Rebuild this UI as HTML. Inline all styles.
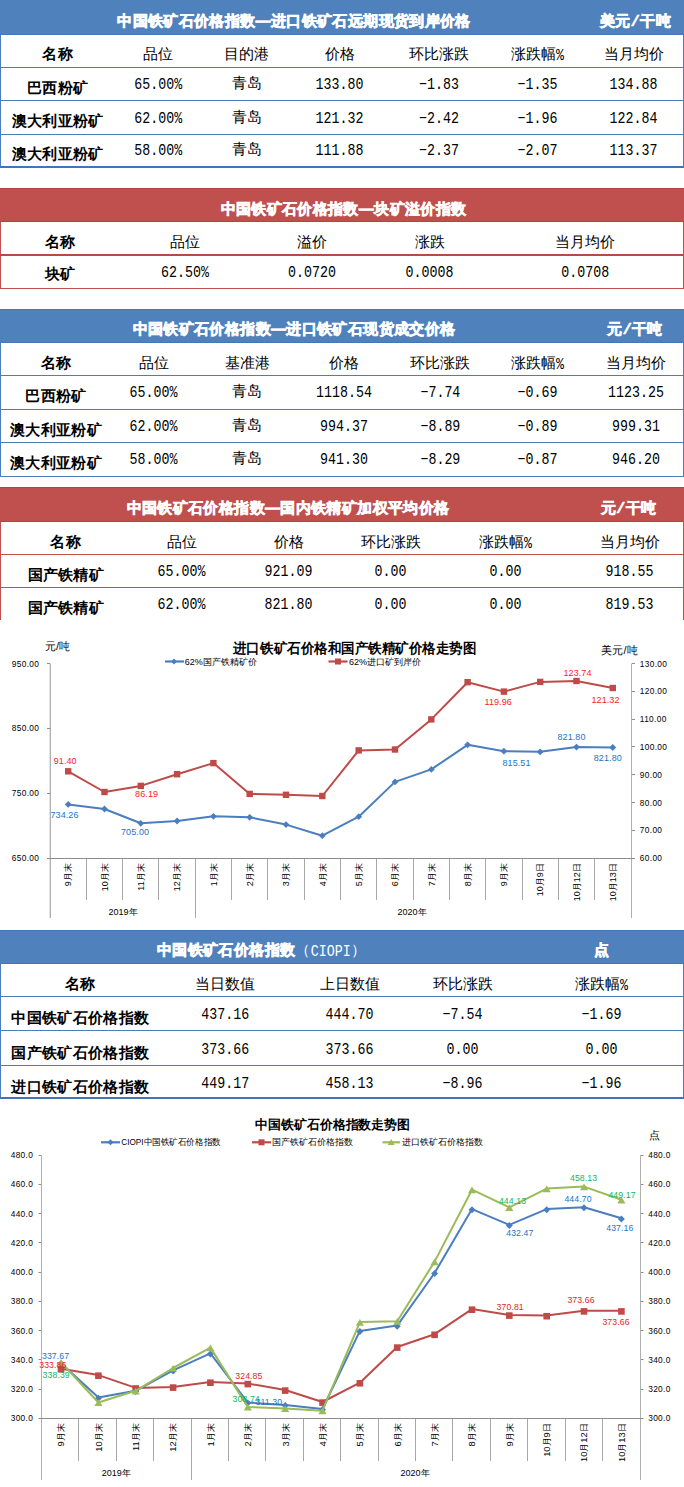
<!DOCTYPE html>
<html><head><meta charset="utf-8"><title>铁矿石价格指数</title><style>html,body{margin:0;padding:0;background:#fff}
body{width:684px;height:1487px;position:relative;overflow:hidden;font-family:"Liberation Sans",sans-serif;color:#000}
.r{position:absolute}
.t{position:absolute;white-space:nowrap;line-height:20px;height:20px}
.ci{font-weight:normal;-webkit-text-stroke:0}
.cm{font-family:'Liberation Mono',monospace;font-size:13.3px;display:inline-block;transform:scaleY(1.18);letter-spacing:0}
.sl{font-family:'Liberation Mono',monospace}
.pc{font-family:'Liberation Mono',monospace;font-size:13.3px;display:inline-block;transform:scaleY(1.18)}
svg{position:absolute;left:0;top:0}
svg text{font-family:"Liberation Sans",sans-serif}
</style></head><body>
<div class="r" style="left:0px;top:0px;width:684px;height:35px;background:#4f81bd"></div>
<div class="r" style="left:0px;top:34px;width:684px;height:1px;background:#4576b6"></div>
<div class="r" style="left:0px;top:35px;width:1px;height:133px;background:#4a7ebb"></div>
<div class="r" style="left:683px;top:35px;width:1px;height:133px;background:#4a7ebb"></div>
<div class="r" style="left:0px;top:67px;width:684px;height:1px;background:#4a7ebb"></div>
<div class="r" style="left:0px;top:100px;width:684px;height:1px;background:#4a7ebb"></div>
<div class="r" style="left:0px;top:134px;width:684px;height:1px;background:#4a7ebb"></div>
<div class="r" style="left:0px;top:166px;width:684px;height:2px;background:#4076b7"></div>
<span class="t" style="top:10.5px;font-size:15px;left:294.0px;transform:translateX(-50%);font-weight:bold;color:#fff;-webkit-text-stroke:0.6px #fff;letter-spacing:0.37px;">中国铁矿石价格指数—进口铁矿石远期现货到岸价格</span>
<span class="t" style="top:10.5px;font-size:15px;left:635.5px;transform:translateX(-50%);font-weight:bold;color:#fff;-webkit-text-stroke:0.6px #fff;letter-spacing:0.37px;">美元<span class="sl">/</span>干吨</span>
<span class="t" style="top:43.5px;font-size:15px;left:57.8px;transform:translateX(-50%);font-weight:bold;letter-spacing:0.3px;">名称</span>
<span class="t" style="top:43.5px;font-size:15px;left:158.2px;transform:translateX(-50%);">品位</span>
<span class="t" style="top:43.5px;font-size:15px;left:246.9px;transform:translateX(-50%);">目的港</span>
<span class="t" style="top:43.5px;font-size:15px;left:339.5px;transform:translateX(-50%);">价格</span>
<span class="t" style="top:43.5px;font-size:15px;left:439.0px;transform:translateX(-50%);">环比涨跌</span>
<span class="t" style="top:43.5px;font-size:15px;left:537.5px;transform:translateX(-50%);">涨跌幅<span class="pc">%</span></span>
<span class="t" style="top:43.5px;font-size:15px;left:633.5px;transform:translateX(-50%);">当月均价</span>
<span class="t" style="top:77.7px;font-size:15px;left:57.8px;transform:translateX(-50%);font-weight:bold;letter-spacing:0.3px;">巴西粉矿</span>
<span class="t" style="top:75.2px;font-size:13.3px;left:158.2px;transform:translateX(-50%);font-family:'Liberation Mono',monospace;transform:translateX(-50%) scaleY(1.18);">65.00%</span>
<span class="t" style="top:73.2px;font-size:15px;left:246.9px;transform:translateX(-50%);">青岛</span>
<span class="t" style="top:75.2px;font-size:13.3px;left:339.5px;transform:translateX(-50%);font-family:'Liberation Mono',monospace;transform:translateX(-50%) scaleY(1.18);">133.80</span>
<span class="t" style="top:75.2px;font-size:13.3px;left:439.0px;transform:translateX(-50%);font-family:'Liberation Mono',monospace;transform:translateX(-50%) scaleY(1.18);">−1.83</span>
<span class="t" style="top:75.2px;font-size:13.3px;left:537.5px;transform:translateX(-50%);font-family:'Liberation Mono',monospace;transform:translateX(-50%) scaleY(1.18);">−1.35</span>
<span class="t" style="top:75.2px;font-size:13.3px;left:633.5px;transform:translateX(-50%);font-family:'Liberation Mono',monospace;transform:translateX(-50%) scaleY(1.18);">134.88</span>
<span class="t" style="top:111.4px;font-size:15px;left:57.8px;transform:translateX(-50%);font-weight:bold;letter-spacing:0.3px;">澳大利亚粉矿</span>
<span class="t" style="top:108.9px;font-size:13.3px;left:158.2px;transform:translateX(-50%);font-family:'Liberation Mono',monospace;transform:translateX(-50%) scaleY(1.18);">62.00%</span>
<span class="t" style="top:106.9px;font-size:15px;left:246.9px;transform:translateX(-50%);">青岛</span>
<span class="t" style="top:108.9px;font-size:13.3px;left:339.5px;transform:translateX(-50%);font-family:'Liberation Mono',monospace;transform:translateX(-50%) scaleY(1.18);">121.32</span>
<span class="t" style="top:108.9px;font-size:13.3px;left:439.0px;transform:translateX(-50%);font-family:'Liberation Mono',monospace;transform:translateX(-50%) scaleY(1.18);">−2.42</span>
<span class="t" style="top:108.9px;font-size:13.3px;left:537.5px;transform:translateX(-50%);font-family:'Liberation Mono',monospace;transform:translateX(-50%) scaleY(1.18);">−1.96</span>
<span class="t" style="top:108.9px;font-size:13.3px;left:633.5px;transform:translateX(-50%);font-family:'Liberation Mono',monospace;transform:translateX(-50%) scaleY(1.18);">122.84</span>
<span class="t" style="top:143.9px;font-size:15px;left:57.8px;transform:translateX(-50%);font-weight:bold;letter-spacing:0.3px;">澳大利亚粉矿</span>
<span class="t" style="top:141.4px;font-size:13.3px;left:158.2px;transform:translateX(-50%);font-family:'Liberation Mono',monospace;transform:translateX(-50%) scaleY(1.18);">58.00%</span>
<span class="t" style="top:139.4px;font-size:15px;left:246.9px;transform:translateX(-50%);">青岛</span>
<span class="t" style="top:141.4px;font-size:13.3px;left:339.5px;transform:translateX(-50%);font-family:'Liberation Mono',monospace;transform:translateX(-50%) scaleY(1.18);">111.88</span>
<span class="t" style="top:141.4px;font-size:13.3px;left:439.0px;transform:translateX(-50%);font-family:'Liberation Mono',monospace;transform:translateX(-50%) scaleY(1.18);">−2.37</span>
<span class="t" style="top:141.4px;font-size:13.3px;left:537.5px;transform:translateX(-50%);font-family:'Liberation Mono',monospace;transform:translateX(-50%) scaleY(1.18);">−2.07</span>
<span class="t" style="top:141.4px;font-size:13.3px;left:633.5px;transform:translateX(-50%);font-family:'Liberation Mono',monospace;transform:translateX(-50%) scaleY(1.18);">113.37</span>
<div class="r" style="left:0px;top:188px;width:684px;height:34px;background:#c0504d"></div>
<div class="r" style="left:0px;top:188px;width:684px;height:1px;background:#b8423f"></div>
<div class="r" style="left:0px;top:221px;width:684px;height:1px;background:#b8423f"></div>
<div class="r" style="left:0px;top:222px;width:1px;height:67px;background:#c0504d"></div>
<div class="r" style="left:683px;top:222px;width:1px;height:67px;background:#c0504d"></div>
<div class="r" style="left:0px;top:254px;width:684px;height:2px;background:#bc4845"></div>
<div class="r" style="left:0px;top:288px;width:684px;height:1px;background:#c0504d"></div>
<span class="t" style="top:198.5px;font-size:15px;left:343.5px;transform:translateX(-50%);font-weight:bold;color:#fff;-webkit-text-stroke:0.6px #fff;letter-spacing:0.37px;">中国铁矿石价格指数—块矿溢价指数</span>
<span class="t" style="top:232.0px;font-size:15px;left:60.0px;transform:translateX(-50%);font-weight:bold;letter-spacing:0.3px;">名称</span>
<span class="t" style="top:232.0px;font-size:15px;left:185.0px;transform:translateX(-50%);">品位</span>
<span class="t" style="top:232.0px;font-size:15px;left:312.0px;transform:translateX(-50%);">溢价</span>
<span class="t" style="top:232.0px;font-size:15px;left:429.5px;transform:translateX(-50%);">涨跌</span>
<span class="t" style="top:232.0px;font-size:15px;left:585.3px;transform:translateX(-50%);">当月均价</span>
<span class="t" style="top:263.5px;font-size:15px;left:60.0px;transform:translateX(-50%);font-weight:bold;letter-spacing:0.3px;">块矿</span>
<span class="t" style="top:262.5px;font-size:13.3px;left:185.0px;transform:translateX(-50%);font-family:'Liberation Mono',monospace;transform:translateX(-50%) scaleY(1.18);">62.50%</span>
<span class="t" style="top:262.5px;font-size:13.3px;left:312.0px;transform:translateX(-50%);font-family:'Liberation Mono',monospace;transform:translateX(-50%) scaleY(1.18);">0.0720</span>
<span class="t" style="top:262.5px;font-size:13.3px;left:429.5px;transform:translateX(-50%);font-family:'Liberation Mono',monospace;transform:translateX(-50%) scaleY(1.18);">0.0008</span>
<span class="t" style="top:262.5px;font-size:13.3px;left:585.3px;transform:translateX(-50%);font-family:'Liberation Mono',monospace;transform:translateX(-50%) scaleY(1.18);">0.0708</span>
<div class="r" style="left:0px;top:309px;width:684px;height:34px;background:#4f81bd"></div>
<div class="r" style="left:0px;top:309px;width:684px;height:1px;background:#4576b6"></div>
<div class="r" style="left:0px;top:342px;width:684px;height:1px;background:#4576b6"></div>
<div class="r" style="left:0px;top:343px;width:1px;height:134px;background:#4a7ebb"></div>
<div class="r" style="left:683px;top:343px;width:1px;height:134px;background:#4a7ebb"></div>
<div class="r" style="left:0px;top:375px;width:684px;height:1px;background:#4a7ebb"></div>
<div class="r" style="left:0px;top:409px;width:684px;height:1px;background:#4a7ebb"></div>
<div class="r" style="left:0px;top:442px;width:684px;height:1px;background:#4a7ebb"></div>
<div class="r" style="left:0px;top:476px;width:684px;height:1px;background:#4a7ebb"></div>
<span class="t" style="top:318.5px;font-size:15px;left:294.0px;transform:translateX(-50%);font-weight:bold;color:#fff;-webkit-text-stroke:0.6px #fff;letter-spacing:0.37px;">中国铁矿石价格指数—进口铁矿石现货成交价格</span>
<span class="t" style="top:318.5px;font-size:15px;left:635.0px;transform:translateX(-50%);font-weight:bold;color:#fff;-webkit-text-stroke:0.6px #fff;letter-spacing:0.37px;">元<span class="sl">/</span>干吨</span>
<span class="t" style="top:352.5px;font-size:15px;left:56.0px;transform:translateX(-50%);font-weight:bold;letter-spacing:0.3px;">名称</span>
<span class="t" style="top:352.5px;font-size:15px;left:153.5px;transform:translateX(-50%);">品位</span>
<span class="t" style="top:352.5px;font-size:15px;left:247.0px;transform:translateX(-50%);">基准港</span>
<span class="t" style="top:352.5px;font-size:15px;left:344.0px;transform:translateX(-50%);">价格</span>
<span class="t" style="top:352.5px;font-size:15px;left:440.4px;transform:translateX(-50%);">环比涨跌</span>
<span class="t" style="top:352.5px;font-size:15px;left:537.5px;transform:translateX(-50%);">涨跌幅<span class="pc">%</span></span>
<span class="t" style="top:352.5px;font-size:15px;left:636.0px;transform:translateX(-50%);">当月均价</span>
<span class="t" style="top:385.5px;font-size:15px;left:56.0px;transform:translateX(-50%);font-weight:bold;letter-spacing:0.3px;">巴西粉矿</span>
<span class="t" style="top:382.5px;font-size:13.3px;left:153.5px;transform:translateX(-50%);font-family:'Liberation Mono',monospace;transform:translateX(-50%) scaleY(1.18);">65.00%</span>
<span class="t" style="top:380.5px;font-size:15px;left:247.0px;transform:translateX(-50%);">青岛</span>
<span class="t" style="top:382.5px;font-size:13.3px;left:344.0px;transform:translateX(-50%);font-family:'Liberation Mono',monospace;transform:translateX(-50%) scaleY(1.18);">1118.54</span>
<span class="t" style="top:382.5px;font-size:13.3px;left:440.4px;transform:translateX(-50%);font-family:'Liberation Mono',monospace;transform:translateX(-50%) scaleY(1.18);">−7.74</span>
<span class="t" style="top:382.5px;font-size:13.3px;left:537.5px;transform:translateX(-50%);font-family:'Liberation Mono',monospace;transform:translateX(-50%) scaleY(1.18);">−0.69</span>
<span class="t" style="top:382.5px;font-size:13.3px;left:636.0px;transform:translateX(-50%);font-family:'Liberation Mono',monospace;transform:translateX(-50%) scaleY(1.18);">1123.25</span>
<span class="t" style="top:419.5px;font-size:15px;left:56.0px;transform:translateX(-50%);font-weight:bold;letter-spacing:0.3px;">澳大利亚粉矿</span>
<span class="t" style="top:416.5px;font-size:13.3px;left:153.5px;transform:translateX(-50%);font-family:'Liberation Mono',monospace;transform:translateX(-50%) scaleY(1.18);">62.00%</span>
<span class="t" style="top:414.5px;font-size:15px;left:247.0px;transform:translateX(-50%);">青岛</span>
<span class="t" style="top:416.5px;font-size:13.3px;left:344.0px;transform:translateX(-50%);font-family:'Liberation Mono',monospace;transform:translateX(-50%) scaleY(1.18);">994.37</span>
<span class="t" style="top:416.5px;font-size:13.3px;left:440.4px;transform:translateX(-50%);font-family:'Liberation Mono',monospace;transform:translateX(-50%) scaleY(1.18);">−8.89</span>
<span class="t" style="top:416.5px;font-size:13.3px;left:537.5px;transform:translateX(-50%);font-family:'Liberation Mono',monospace;transform:translateX(-50%) scaleY(1.18);">−0.89</span>
<span class="t" style="top:416.5px;font-size:13.3px;left:636.0px;transform:translateX(-50%);font-family:'Liberation Mono',monospace;transform:translateX(-50%) scaleY(1.18);">999.31</span>
<span class="t" style="top:453.0px;font-size:15px;left:56.0px;transform:translateX(-50%);font-weight:bold;letter-spacing:0.3px;">澳大利亚粉矿</span>
<span class="t" style="top:450.0px;font-size:13.3px;left:153.5px;transform:translateX(-50%);font-family:'Liberation Mono',monospace;transform:translateX(-50%) scaleY(1.18);">58.00%</span>
<span class="t" style="top:448.0px;font-size:15px;left:247.0px;transform:translateX(-50%);">青岛</span>
<span class="t" style="top:450.0px;font-size:13.3px;left:344.0px;transform:translateX(-50%);font-family:'Liberation Mono',monospace;transform:translateX(-50%) scaleY(1.18);">941.30</span>
<span class="t" style="top:450.0px;font-size:13.3px;left:440.4px;transform:translateX(-50%);font-family:'Liberation Mono',monospace;transform:translateX(-50%) scaleY(1.18);">−8.29</span>
<span class="t" style="top:450.0px;font-size:13.3px;left:537.5px;transform:translateX(-50%);font-family:'Liberation Mono',monospace;transform:translateX(-50%) scaleY(1.18);">−0.87</span>
<span class="t" style="top:450.0px;font-size:13.3px;left:636.0px;transform:translateX(-50%);font-family:'Liberation Mono',monospace;transform:translateX(-50%) scaleY(1.18);">946.20</span>
<div class="r" style="left:0px;top:487px;width:684px;height:35px;background:#c0504d"></div>
<div class="r" style="left:0px;top:487px;width:684px;height:1px;background:#b8423f"></div>
<div class="r" style="left:0px;top:521px;width:684px;height:1px;background:#b8423f"></div>
<div class="r" style="left:0px;top:522px;width:1px;height:98px;background:#c0504d"></div>
<div class="r" style="left:683px;top:522px;width:1px;height:98px;background:#c0504d"></div>
<div class="r" style="left:0px;top:554px;width:684px;height:1px;background:#c0504d"></div>
<div class="r" style="left:0px;top:587px;width:684px;height:1px;background:#c0504d"></div>
<span class="t" style="top:497.5px;font-size:15px;left:288.0px;transform:translateX(-50%);font-weight:bold;color:#fff;-webkit-text-stroke:0.6px #fff;letter-spacing:0.37px;">中国铁矿石价格指数—国内铁精矿加权平均价格</span>
<span class="t" style="top:497.5px;font-size:15px;left:628.5px;transform:translateX(-50%);font-weight:bold;color:#fff;-webkit-text-stroke:0.6px #fff;letter-spacing:0.37px;">元<span class="sl">/</span>干吨</span>
<span class="t" style="top:531.5px;font-size:15px;left:65.8px;transform:translateX(-50%);font-weight:bold;letter-spacing:0.3px;">名称</span>
<span class="t" style="top:531.5px;font-size:15px;left:181.5px;transform:translateX(-50%);">品位</span>
<span class="t" style="top:531.5px;font-size:15px;left:288.5px;transform:translateX(-50%);">价格</span>
<span class="t" style="top:531.5px;font-size:15px;left:390.5px;transform:translateX(-50%);">环比涨跌</span>
<span class="t" style="top:531.5px;font-size:15px;left:505.5px;transform:translateX(-50%);">涨跌幅<span class="pc">%</span></span>
<span class="t" style="top:531.5px;font-size:15px;left:629.5px;transform:translateX(-50%);">当月均价</span>
<span class="t" style="top:565.2px;font-size:15px;left:65.8px;transform:translateX(-50%);font-weight:bold;letter-spacing:0.3px;">国产铁精矿</span>
<span class="t" style="top:562.2px;font-size:13.3px;left:181.5px;transform:translateX(-50%);font-family:'Liberation Mono',monospace;transform:translateX(-50%) scaleY(1.18);">65.00%</span>
<span class="t" style="top:562.2px;font-size:13.3px;left:288.5px;transform:translateX(-50%);font-family:'Liberation Mono',monospace;transform:translateX(-50%) scaleY(1.18);">921.09</span>
<span class="t" style="top:562.2px;font-size:13.3px;left:390.5px;transform:translateX(-50%);font-family:'Liberation Mono',monospace;transform:translateX(-50%) scaleY(1.18);">0.00</span>
<span class="t" style="top:562.2px;font-size:13.3px;left:505.5px;transform:translateX(-50%);font-family:'Liberation Mono',monospace;transform:translateX(-50%) scaleY(1.18);">0.00</span>
<span class="t" style="top:562.2px;font-size:13.3px;left:629.5px;transform:translateX(-50%);font-family:'Liberation Mono',monospace;transform:translateX(-50%) scaleY(1.18);">918.55</span>
<span class="t" style="top:598.3px;font-size:15px;left:65.8px;transform:translateX(-50%);font-weight:bold;letter-spacing:0.3px;">国产铁精矿</span>
<span class="t" style="top:595.3px;font-size:13.3px;left:181.5px;transform:translateX(-50%);font-family:'Liberation Mono',monospace;transform:translateX(-50%) scaleY(1.18);">62.00%</span>
<span class="t" style="top:595.3px;font-size:13.3px;left:288.5px;transform:translateX(-50%);font-family:'Liberation Mono',monospace;transform:translateX(-50%) scaleY(1.18);">821.80</span>
<span class="t" style="top:595.3px;font-size:13.3px;left:390.5px;transform:translateX(-50%);font-family:'Liberation Mono',monospace;transform:translateX(-50%) scaleY(1.18);">0.00</span>
<span class="t" style="top:595.3px;font-size:13.3px;left:505.5px;transform:translateX(-50%);font-family:'Liberation Mono',monospace;transform:translateX(-50%) scaleY(1.18);">0.00</span>
<span class="t" style="top:595.3px;font-size:13.3px;left:629.5px;transform:translateX(-50%);font-family:'Liberation Mono',monospace;transform:translateX(-50%) scaleY(1.18);">819.53</span>
<div class="r" style="left:0px;top:930px;width:684px;height:34px;background:#4f81bd"></div>
<div class="r" style="left:0px;top:930px;width:684px;height:1px;background:#4576b6"></div>
<div class="r" style="left:0px;top:963px;width:684px;height:1px;background:#4576b6"></div>
<div class="r" style="left:0px;top:964px;width:1px;height:135px;background:#4a7ebb"></div>
<div class="r" style="left:683px;top:964px;width:1px;height:135px;background:#4a7ebb"></div>
<div class="r" style="left:0px;top:996px;width:684px;height:1px;background:#4a7ebb"></div>
<div class="r" style="left:0px;top:1030px;width:684px;height:1px;background:#4a7ebb"></div>
<div class="r" style="left:0px;top:1065px;width:684px;height:1px;background:#4a7ebb"></div>
<div class="r" style="left:0px;top:1097px;width:684px;height:2px;background:#4076b7"></div>
<span class="t" style="top:939.5px;font-size:15px;left:261.5px;transform:translateX(-50%);font-weight:bold;color:#fff;-webkit-text-stroke:0.6px #fff;letter-spacing:0.37px;">中国铁矿石价格指数<span class="ci">（<span class="cm">CIOPI</span>）</span></span>
<span class="t" style="top:939.5px;font-size:15px;left:601.5px;transform:translateX(-50%);font-weight:bold;color:#fff;-webkit-text-stroke:0.6px #fff;letter-spacing:0.37px;">点</span>
<span class="t" style="top:974.0px;font-size:15px;left:80.3px;transform:translateX(-50%);font-weight:bold;letter-spacing:0.3px;">名称</span>
<span class="t" style="top:974.0px;font-size:15px;left:225.3px;transform:translateX(-50%);">当日数值</span>
<span class="t" style="top:974.0px;font-size:15px;left:349.5px;transform:translateX(-50%);">上日数值</span>
<span class="t" style="top:974.0px;font-size:15px;left:462.5px;transform:translateX(-50%);">环比涨跌</span>
<span class="t" style="top:974.0px;font-size:15px;left:601.5px;transform:translateX(-50%);">涨跌幅<span class="pc">%</span></span>
<span class="t" style="top:1008.0px;font-size:15px;left:80.3px;transform:translateX(-50%);font-weight:bold;letter-spacing:0.3px;">中国铁矿石价格指数</span>
<span class="t" style="top:1004.5px;font-size:13.3px;left:225.3px;transform:translateX(-50%);font-family:'Liberation Mono',monospace;transform:translateX(-50%) scaleY(1.18);">437.16</span>
<span class="t" style="top:1004.5px;font-size:13.3px;left:349.5px;transform:translateX(-50%);font-family:'Liberation Mono',monospace;transform:translateX(-50%) scaleY(1.18);">444.70</span>
<span class="t" style="top:1004.5px;font-size:13.3px;left:462.5px;transform:translateX(-50%);font-family:'Liberation Mono',monospace;transform:translateX(-50%) scaleY(1.18);">−7.54</span>
<span class="t" style="top:1004.5px;font-size:13.3px;left:601.5px;transform:translateX(-50%);font-family:'Liberation Mono',monospace;transform:translateX(-50%) scaleY(1.18);">−1.69</span>
<span class="t" style="top:1043.0px;font-size:15px;left:80.3px;transform:translateX(-50%);font-weight:bold;letter-spacing:0.3px;">国产铁矿石价格指数</span>
<span class="t" style="top:1039.5px;font-size:13.3px;left:225.3px;transform:translateX(-50%);font-family:'Liberation Mono',monospace;transform:translateX(-50%) scaleY(1.18);">373.66</span>
<span class="t" style="top:1039.5px;font-size:13.3px;left:349.5px;transform:translateX(-50%);font-family:'Liberation Mono',monospace;transform:translateX(-50%) scaleY(1.18);">373.66</span>
<span class="t" style="top:1039.5px;font-size:13.3px;left:462.5px;transform:translateX(-50%);font-family:'Liberation Mono',monospace;transform:translateX(-50%) scaleY(1.18);">0.00</span>
<span class="t" style="top:1039.5px;font-size:13.3px;left:601.5px;transform:translateX(-50%);font-family:'Liberation Mono',monospace;transform:translateX(-50%) scaleY(1.18);">0.00</span>
<span class="t" style="top:1077.0px;font-size:15px;left:80.3px;transform:translateX(-50%);font-weight:bold;letter-spacing:0.3px;">进口铁矿石价格指数</span>
<span class="t" style="top:1073.5px;font-size:13.3px;left:225.3px;transform:translateX(-50%);font-family:'Liberation Mono',monospace;transform:translateX(-50%) scaleY(1.18);">449.17</span>
<span class="t" style="top:1073.5px;font-size:13.3px;left:349.5px;transform:translateX(-50%);font-family:'Liberation Mono',monospace;transform:translateX(-50%) scaleY(1.18);">458.13</span>
<span class="t" style="top:1073.5px;font-size:13.3px;left:462.5px;transform:translateX(-50%);font-family:'Liberation Mono',monospace;transform:translateX(-50%) scaleY(1.18);">−8.96</span>
<span class="t" style="top:1073.5px;font-size:13.3px;left:601.5px;transform:translateX(-50%);font-family:'Liberation Mono',monospace;transform:translateX(-50%) scaleY(1.18);">−1.96</span>
<svg width="684" height="1487" viewBox="0 0 684 1487"><rect x="49" y="663.5" width="1" height="254.5" fill="#e4e4e4"/><rect x="50" y="663.5" width="1" height="254.5" fill="#b0b0b0"/><rect x="631" y="663.5" width="1" height="254.5" fill="#b0b0b0"/><rect x="50" y="858" width="582" height="1" fill="#8c8c8c"/><rect x="47" y="663" width="3" height="1" fill="#8c8c8c"/><text x="39.3" y="666.5" font-size="8.3" fill="#000" text-anchor="end" letter-spacing="0.35">950.00</text><rect x="47" y="728" width="3" height="1" fill="#8c8c8c"/><text x="39.3" y="731.4" font-size="8.3" fill="#000" text-anchor="end" letter-spacing="0.35">850.00</text><rect x="47" y="793" width="3" height="1" fill="#8c8c8c"/><text x="39.3" y="796.3" font-size="8.3" fill="#000" text-anchor="end" letter-spacing="0.35">750.00</text><rect x="47" y="858" width="3" height="1" fill="#8c8c8c"/><text x="39.3" y="861.2" font-size="8.3" fill="#000" text-anchor="end" letter-spacing="0.35">650.00</text><rect x="632" y="663" width="3" height="1" fill="#8c8c8c"/><text x="639.8" y="666.5" font-size="8.3" fill="#000" text-anchor="start" letter-spacing="0.35">130.00</text><rect x="632" y="691" width="3" height="1" fill="#8c8c8c"/><text x="639.8" y="694.3" font-size="8.3" fill="#000" text-anchor="start" letter-spacing="0.35">120.00</text><rect x="632" y="719" width="3" height="1" fill="#8c8c8c"/><text x="639.8" y="722.1" font-size="8.3" fill="#000" text-anchor="start" letter-spacing="0.35">110.00</text><rect x="632" y="746" width="3" height="1" fill="#8c8c8c"/><text x="639.8" y="749.9" font-size="8.3" fill="#000" text-anchor="start" letter-spacing="0.35">100.00</text><rect x="632" y="774" width="3" height="1" fill="#8c8c8c"/><text x="639.8" y="777.8" font-size="8.3" fill="#000" text-anchor="start" letter-spacing="0.35">90.00</text><rect x="632" y="802" width="3" height="1" fill="#8c8c8c"/><text x="639.8" y="805.6" font-size="8.3" fill="#000" text-anchor="start" letter-spacing="0.35">80.00</text><rect x="632" y="830" width="3" height="1" fill="#8c8c8c"/><text x="639.8" y="833.4" font-size="8.3" fill="#000" text-anchor="start" letter-spacing="0.35">70.00</text><rect x="632" y="858" width="3" height="1" fill="#8c8c8c"/><text x="639.8" y="861.2" font-size="8.3" fill="#000" text-anchor="start" letter-spacing="0.35">60.00</text><rect x="86" y="859" width="1" height="41" fill="#a8a8a8"/><rect x="122" y="859" width="1" height="41" fill="#a8a8a8"/><rect x="158" y="859" width="1" height="41" fill="#a8a8a8"/><rect x="195" y="859" width="1" height="59" fill="#a8a8a8"/><rect x="231" y="859" width="1" height="41" fill="#a8a8a8"/><rect x="267" y="859" width="1" height="41" fill="#a8a8a8"/><rect x="304" y="859" width="1" height="41" fill="#a8a8a8"/><rect x="340" y="859" width="1" height="41" fill="#a8a8a8"/><rect x="376" y="859" width="1" height="41" fill="#a8a8a8"/><rect x="413" y="859" width="1" height="41" fill="#a8a8a8"/><rect x="449" y="859" width="1" height="41" fill="#a8a8a8"/><rect x="485" y="859" width="1" height="41" fill="#a8a8a8"/><rect x="522" y="859" width="1" height="41" fill="#a8a8a8"/><rect x="558" y="859" width="1" height="41" fill="#a8a8a8"/><rect x="594" y="859" width="1" height="41" fill="#a8a8a8"/><text x="71.5" y="863.3" font-size="9" fill="#000" text-anchor="end" transform="rotate(-90 71.5 863.3)">9月末</text><text x="107.8" y="863.3" font-size="9" fill="#000" text-anchor="end" transform="rotate(-90 107.8 863.3)">10月末</text><text x="144.1" y="863.3" font-size="9" fill="#000" text-anchor="end" transform="rotate(-90 144.1 863.3)">11月末</text><text x="180.4" y="863.3" font-size="9" fill="#000" text-anchor="end" transform="rotate(-90 180.4 863.3)">12月末</text><text x="216.7" y="863.3" font-size="9" fill="#000" text-anchor="end" transform="rotate(-90 216.7 863.3)">1月末</text><text x="253.0" y="863.3" font-size="9" fill="#000" text-anchor="end" transform="rotate(-90 253.0 863.3)">2月末</text><text x="289.3" y="863.3" font-size="9" fill="#000" text-anchor="end" transform="rotate(-90 289.3 863.3)">3月末</text><text x="325.6" y="863.3" font-size="9" fill="#000" text-anchor="end" transform="rotate(-90 325.6 863.3)">4月末</text><text x="362.0" y="863.3" font-size="9" fill="#000" text-anchor="end" transform="rotate(-90 362.0 863.3)">5月末</text><text x="398.3" y="863.3" font-size="9" fill="#000" text-anchor="end" transform="rotate(-90 398.3 863.3)">6月末</text><text x="434.6" y="863.3" font-size="9" fill="#000" text-anchor="end" transform="rotate(-90 434.6 863.3)">7月末</text><text x="470.9" y="863.3" font-size="9" fill="#000" text-anchor="end" transform="rotate(-90 470.9 863.3)">8月末</text><text x="507.2" y="863.3" font-size="9" fill="#000" text-anchor="end" transform="rotate(-90 507.2 863.3)">9月末</text><text x="543.5" y="863.3" font-size="9" fill="#000" text-anchor="end" transform="rotate(-90 543.5 863.3)">10月9日</text><text x="579.8" y="863.3" font-size="9" fill="#000" text-anchor="end" transform="rotate(-90 579.8 863.3)">10月12日</text><text x="616.1" y="863.3" font-size="9" fill="#000" text-anchor="end" transform="rotate(-90 616.1 863.3)">10月13日</text><text x="123.0" y="915.2" font-size="9" fill="#000" text-anchor="middle">2019年</text><text x="412.0" y="915.2" font-size="9" fill="#000" text-anchor="middle">2020年</text><text x="57.5" y="649.6" font-size="11.3" fill="#000" text-anchor="middle">元/吨</text><text x="619.5" y="654.3" font-size="11" fill="#000" text-anchor="middle">美元/吨</text><text x="354.7" y="652.5" font-size="13.5" fill="#000" text-anchor="middle" textLength="243.5" lengthAdjust="spacingAndGlyphs" font-weight="bold">进口铁矿石价格和国产铁精矿价格走势图</text><line x1="165" y1="661.5" x2="184" y2="661.5" stroke="#4a7ebf" stroke-width="2.2"/><path d="M174.0 658.5L177.0 661.5L174.0 664.5L171.0 661.5Z" fill="#4a7ebf"/><text x="184.8" y="664.6" font-size="9" fill="#000" text-anchor="start" textLength="72" lengthAdjust="spacingAndGlyphs">62%国产铁精矿价</text><line x1="328.5" y1="661.5" x2="347.5" y2="661.5" stroke="#be4b48" stroke-width="2.2"/><rect x="335.0" y="658.5" width="6.0" height="6.0" fill="#be4b48"/><text x="349.1" y="664.6" font-size="9" fill="#000" text-anchor="start" textLength="72" lengthAdjust="spacingAndGlyphs">62%进口矿到岸价</text><polyline points="68.2,771.3 104.5,792.0 140.8,785.9 177.1,774.2 213.4,763.1 249.7,793.9 286.0,794.8 322.3,796.0 358.7,750.4 395.0,749.5 431.3,719.4 467.6,682.2 503.9,691.6 540.2,681.9 576.5,681.0 612.8,688.0" fill="none" stroke="#be4b48" stroke-width="2.0" stroke-linejoin="round"/><rect x="65.0" y="768.1" width="6.4" height="6.4" fill="#be4b48"/><rect x="101.3" y="788.8" width="6.4" height="6.4" fill="#be4b48"/><rect x="137.6" y="782.7" width="6.4" height="6.4" fill="#be4b48"/><rect x="173.9" y="771.0" width="6.4" height="6.4" fill="#be4b48"/><rect x="210.2" y="759.9" width="6.4" height="6.4" fill="#be4b48"/><rect x="246.5" y="790.7" width="6.4" height="6.4" fill="#be4b48"/><rect x="282.8" y="791.6" width="6.4" height="6.4" fill="#be4b48"/><rect x="319.1" y="792.8" width="6.4" height="6.4" fill="#be4b48"/><rect x="355.5" y="747.2" width="6.4" height="6.4" fill="#be4b48"/><rect x="391.8" y="746.3" width="6.4" height="6.4" fill="#be4b48"/><rect x="428.1" y="716.2" width="6.4" height="6.4" fill="#be4b48"/><rect x="464.4" y="679.0" width="6.4" height="6.4" fill="#be4b48"/><rect x="500.7" y="688.4" width="6.4" height="6.4" fill="#be4b48"/><rect x="537.0" y="678.7" width="6.4" height="6.4" fill="#be4b48"/><rect x="573.3" y="677.8" width="6.4" height="6.4" fill="#be4b48"/><rect x="609.6" y="684.8" width="6.4" height="6.4" fill="#be4b48"/><polyline points="68.2,804.4 104.5,809.0 140.8,823.3 177.1,821.0 213.4,816.3 249.7,817.3 286.0,824.6 322.3,835.7 358.7,816.7 395.0,781.9 431.3,769.4 467.6,744.8 503.9,751.2 540.2,751.8 576.5,747.1 612.8,747.5" fill="none" stroke="#4a7ebf" stroke-width="2.0" stroke-linejoin="round"/><path d="M68.2 801.0L71.6 804.4L68.2 807.8L64.8 804.4Z" fill="#4a7ebf"/><path d="M104.5 805.6L107.9 809.0L104.5 812.4L101.1 809.0Z" fill="#4a7ebf"/><path d="M140.8 819.9L144.2 823.3L140.8 826.7L137.4 823.3Z" fill="#4a7ebf"/><path d="M177.1 817.6L180.5 821.0L177.1 824.4L173.7 821.0Z" fill="#4a7ebf"/><path d="M213.4 812.9L216.8 816.3L213.4 819.7L210.0 816.3Z" fill="#4a7ebf"/><path d="M249.7 813.9L253.1 817.3L249.7 820.7L246.3 817.3Z" fill="#4a7ebf"/><path d="M286.0 821.2L289.4 824.6L286.0 828.0L282.6 824.6Z" fill="#4a7ebf"/><path d="M322.3 832.3L325.7 835.7L322.3 839.1L318.9 835.7Z" fill="#4a7ebf"/><path d="M358.7 813.3L362.1 816.7L358.7 820.1L355.3 816.7Z" fill="#4a7ebf"/><path d="M395.0 778.5L398.4 781.9L395.0 785.3L391.6 781.9Z" fill="#4a7ebf"/><path d="M431.3 766.0L434.7 769.4L431.3 772.8L427.9 769.4Z" fill="#4a7ebf"/><path d="M467.6 741.4L471.0 744.8L467.6 748.2L464.2 744.8Z" fill="#4a7ebf"/><path d="M503.9 747.8L507.3 751.2L503.9 754.6L500.5 751.2Z" fill="#4a7ebf"/><path d="M540.2 748.4L543.6 751.8L540.2 755.2L536.8 751.8Z" fill="#4a7ebf"/><path d="M576.5 743.7L579.9 747.1L576.5 750.5L573.1 747.1Z" fill="#4a7ebf"/><path d="M612.8 744.1L616.2 747.5L612.8 750.9L609.4 747.5Z" fill="#4a7ebf"/><text x="65.2" y="764.4" font-size="9" fill="#ff1a1a" text-anchor="middle" letter-spacing="0.1">91.40</text><text x="146.6" y="797.3" font-size="9" fill="#ff1a1a" text-anchor="middle" letter-spacing="0.1">86.19</text><text x="498.2" y="705.0" font-size="9" fill="#ff1a1a" text-anchor="middle" letter-spacing="0.1">119.96</text><text x="577.5" y="675.8" font-size="9" fill="#ff1a1a" text-anchor="middle" letter-spacing="0.1">123.74</text><text x="605.5" y="702.7" font-size="9" fill="#ff1a1a" text-anchor="middle" letter-spacing="0.1">121.32</text><text x="64.5" y="818.1" font-size="9" fill="#1c74c8" text-anchor="middle" letter-spacing="0.1">734.26</text><text x="135.1" y="835.3" font-size="9" fill="#1c74c8" text-anchor="middle" letter-spacing="0.1">705.00</text><text x="516.5" y="766.1" font-size="9" fill="#1c74c8" text-anchor="middle" letter-spacing="0.1">815.51</text><text x="571.5" y="740.1" font-size="9" fill="#1c74c8" text-anchor="middle" letter-spacing="0.1">821.80</text><text x="607.8" y="761.0" font-size="9" fill="#1c74c8" text-anchor="middle" letter-spacing="0.1">821.80</text><rect x="41" y="1155" width="1" height="325" fill="#b0b0b0"/><rect x="640" y="1155" width="1" height="325" fill="#b0b0b0"/><rect x="41" y="1418" width="600" height="1" fill="#8c8c8c"/><rect x="38.5" y="1155" width="2.5" height="1" fill="#8c8c8c"/><rect x="641" y="1155" width="2.5" height="1" fill="#8c8c8c"/><text x="33.2" y="1158.0" font-size="8.3" fill="#000" text-anchor="end" letter-spacing="0.35">480.0</text><text x="648.2" y="1158.0" font-size="8.3" fill="#000" text-anchor="start" letter-spacing="0.35">480.0</text><rect x="38.5" y="1184" width="2.5" height="1" fill="#8c8c8c"/><rect x="641" y="1184" width="2.5" height="1" fill="#8c8c8c"/><text x="33.2" y="1187.3" font-size="8.3" fill="#000" text-anchor="end" letter-spacing="0.35">460.0</text><text x="648.2" y="1187.3" font-size="8.3" fill="#000" text-anchor="start" letter-spacing="0.35">460.0</text><rect x="38.5" y="1213" width="2.5" height="1" fill="#8c8c8c"/><rect x="641" y="1213" width="2.5" height="1" fill="#8c8c8c"/><text x="33.2" y="1216.5" font-size="8.3" fill="#000" text-anchor="end" letter-spacing="0.35">440.0</text><text x="648.2" y="1216.5" font-size="8.3" fill="#000" text-anchor="start" letter-spacing="0.35">440.0</text><rect x="38.5" y="1242" width="2.5" height="1" fill="#8c8c8c"/><rect x="641" y="1242" width="2.5" height="1" fill="#8c8c8c"/><text x="33.2" y="1245.8" font-size="8.3" fill="#000" text-anchor="end" letter-spacing="0.35">420.0</text><text x="648.2" y="1245.8" font-size="8.3" fill="#000" text-anchor="start" letter-spacing="0.35">420.0</text><rect x="38.5" y="1272" width="2.5" height="1" fill="#8c8c8c"/><rect x="641" y="1272" width="2.5" height="1" fill="#8c8c8c"/><text x="33.2" y="1275.0" font-size="8.3" fill="#000" text-anchor="end" letter-spacing="0.35">400.0</text><text x="648.2" y="1275.0" font-size="8.3" fill="#000" text-anchor="start" letter-spacing="0.35">400.0</text><rect x="38.5" y="1301" width="2.5" height="1" fill="#8c8c8c"/><rect x="641" y="1301" width="2.5" height="1" fill="#8c8c8c"/><text x="33.2" y="1304.3" font-size="8.3" fill="#000" text-anchor="end" letter-spacing="0.35">380.0</text><text x="648.2" y="1304.3" font-size="8.3" fill="#000" text-anchor="start" letter-spacing="0.35">380.0</text><rect x="38.5" y="1330" width="2.5" height="1" fill="#8c8c8c"/><rect x="641" y="1330" width="2.5" height="1" fill="#8c8c8c"/><text x="33.2" y="1333.5" font-size="8.3" fill="#000" text-anchor="end" letter-spacing="0.35">360.0</text><text x="648.2" y="1333.5" font-size="8.3" fill="#000" text-anchor="start" letter-spacing="0.35">360.0</text><rect x="38.5" y="1359" width="2.5" height="1" fill="#8c8c8c"/><rect x="641" y="1359" width="2.5" height="1" fill="#8c8c8c"/><text x="33.2" y="1362.8" font-size="8.3" fill="#000" text-anchor="end" letter-spacing="0.35">340.0</text><text x="648.2" y="1362.8" font-size="8.3" fill="#000" text-anchor="start" letter-spacing="0.35">340.0</text><rect x="38.5" y="1389" width="2.5" height="1" fill="#8c8c8c"/><rect x="641" y="1389" width="2.5" height="1" fill="#8c8c8c"/><text x="33.2" y="1392.0" font-size="8.3" fill="#000" text-anchor="end" letter-spacing="0.35">320.0</text><text x="648.2" y="1392.0" font-size="8.3" fill="#000" text-anchor="start" letter-spacing="0.35">320.0</text><rect x="38.5" y="1418" width="2.5" height="1" fill="#8c8c8c"/><rect x="641" y="1418" width="2.5" height="1" fill="#8c8c8c"/><text x="33.2" y="1421.3" font-size="8.3" fill="#000" text-anchor="end" letter-spacing="0.35">300.0</text><text x="648.2" y="1421.3" font-size="8.3" fill="#000" text-anchor="start" letter-spacing="0.35">300.0</text><rect x="78" y="1419" width="1" height="42" fill="#a8a8a8"/><rect x="116" y="1419" width="1" height="42" fill="#a8a8a8"/><rect x="153" y="1419" width="1" height="42" fill="#a8a8a8"/><rect x="191" y="1419" width="1" height="61" fill="#a8a8a8"/><rect x="228" y="1419" width="1" height="42" fill="#a8a8a8"/><rect x="265" y="1419" width="1" height="42" fill="#a8a8a8"/><rect x="303" y="1419" width="1" height="42" fill="#a8a8a8"/><rect x="340" y="1419" width="1" height="42" fill="#a8a8a8"/><rect x="378" y="1419" width="1" height="42" fill="#a8a8a8"/><rect x="415" y="1419" width="1" height="42" fill="#a8a8a8"/><rect x="452" y="1419" width="1" height="42" fill="#a8a8a8"/><rect x="490" y="1419" width="1" height="42" fill="#a8a8a8"/><rect x="527" y="1419" width="1" height="42" fill="#a8a8a8"/><rect x="565" y="1419" width="1" height="42" fill="#a8a8a8"/><rect x="602" y="1419" width="1" height="42" fill="#a8a8a8"/><text x="64.4" y="1423.3" font-size="9.3" fill="#000" text-anchor="end" transform="rotate(-90 64.4 1423.3)">9月末</text><text x="101.8" y="1423.3" font-size="9.3" fill="#000" text-anchor="end" transform="rotate(-90 101.8 1423.3)">10月末</text><text x="139.1" y="1423.3" font-size="9.3" fill="#000" text-anchor="end" transform="rotate(-90 139.1 1423.3)">11月末</text><text x="176.5" y="1423.3" font-size="9.3" fill="#000" text-anchor="end" transform="rotate(-90 176.5 1423.3)">12月末</text><text x="213.8" y="1423.3" font-size="9.3" fill="#000" text-anchor="end" transform="rotate(-90 213.8 1423.3)">1月末</text><text x="251.2" y="1423.3" font-size="9.3" fill="#000" text-anchor="end" transform="rotate(-90 251.2 1423.3)">2月末</text><text x="288.6" y="1423.3" font-size="9.3" fill="#000" text-anchor="end" transform="rotate(-90 288.6 1423.3)">3月末</text><text x="325.9" y="1423.3" font-size="9.3" fill="#000" text-anchor="end" transform="rotate(-90 325.9 1423.3)">4月末</text><text x="363.3" y="1423.3" font-size="9.3" fill="#000" text-anchor="end" transform="rotate(-90 363.3 1423.3)">5月末</text><text x="400.6" y="1423.3" font-size="9.3" fill="#000" text-anchor="end" transform="rotate(-90 400.6 1423.3)">6月末</text><text x="438.0" y="1423.3" font-size="9.3" fill="#000" text-anchor="end" transform="rotate(-90 438.0 1423.3)">7月末</text><text x="475.4" y="1423.3" font-size="9.3" fill="#000" text-anchor="end" transform="rotate(-90 475.4 1423.3)">8月末</text><text x="512.7" y="1423.3" font-size="9.3" fill="#000" text-anchor="end" transform="rotate(-90 512.7 1423.3)">9月末</text><text x="550.1" y="1423.3" font-size="9.3" fill="#000" text-anchor="end" transform="rotate(-90 550.1 1423.3)">10月9日</text><text x="587.4" y="1423.3" font-size="9.3" fill="#000" text-anchor="end" transform="rotate(-90 587.4 1423.3)">10月12日</text><text x="624.8" y="1423.3" font-size="9.3" fill="#000" text-anchor="end" transform="rotate(-90 624.8 1423.3)">10月13日</text><text x="116.2" y="1476.3" font-size="9" fill="#000" text-anchor="middle">2019年</text><text x="415.0" y="1476.3" font-size="9" fill="#000" text-anchor="middle">2020年</text><text x="654.8" y="1138.5" font-size="10.5" fill="#000" text-anchor="middle">点</text><text x="332.6" y="1129.0" font-size="13" fill="#000" text-anchor="middle" textLength="155" lengthAdjust="spacingAndGlyphs" font-weight="bold">中国铁矿石价格指数走势图</text><line x1="101" y1="1142.3" x2="120" y2="1142.3" stroke="#4a7ebf" stroke-width="2.2"/><path d="M110.5 1139.3L113.5 1142.3L110.5 1145.3L107.5 1142.3Z" fill="#4a7ebf"/><text x="121.3" y="1145.3" font-size="8.6" fill="#000" text-anchor="start" textLength="99.5" lengthAdjust="spacingAndGlyphs">CIOPI中国铁矿石价格指数</text><line x1="252" y1="1142.3" x2="271" y2="1142.3" stroke="#be4b48" stroke-width="2.2"/><rect x="258.5" y="1139.3" width="6.0" height="6.0" fill="#be4b48"/><text x="272.0" y="1145.3" font-size="8.9" fill="#000" text-anchor="start">国产铁矿石价格指数</text><line x1="382.5" y1="1142.3" x2="400" y2="1142.3" stroke="#9bbb59" stroke-width="2.2"/><path d="M391.2 1139.1L394.7 1144.9L387.7 1144.9Z" fill="#9bbb59"/><text x="402.4" y="1145.3" font-size="8.8" fill="#000" text-anchor="start">进口铁矿石价格指数</text><polyline points="61.0,1368.7 98.4,1375.1 135.7,1387.9 173.1,1387.0 210.4,1382.1 247.8,1383.5 285.2,1390.0 322.5,1402.0 359.9,1382.7 397.2,1347.0 434.6,1334.2 472.0,1309.1 509.3,1315.0 546.7,1315.6 584.0,1310.8 621.4,1310.8" fill="none" stroke="#be4b48" stroke-width="2.0" stroke-linejoin="round"/><rect x="57.7" y="1366.0" width="6.6" height="6.6" fill="#be4b48"/><rect x="95.1" y="1372.4" width="6.6" height="6.6" fill="#be4b48"/><rect x="132.4" y="1385.2" width="6.6" height="6.6" fill="#be4b48"/><rect x="169.8" y="1384.3" width="6.6" height="6.6" fill="#be4b48"/><rect x="207.1" y="1379.4" width="6.6" height="6.6" fill="#be4b48"/><rect x="244.5" y="1380.8" width="6.6" height="6.6" fill="#be4b48"/><rect x="281.9" y="1387.3" width="6.6" height="6.6" fill="#be4b48"/><rect x="319.2" y="1399.3" width="6.6" height="6.6" fill="#be4b48"/><rect x="356.6" y="1380.0" width="6.6" height="6.6" fill="#be4b48"/><rect x="393.9" y="1344.3" width="6.6" height="6.6" fill="#be4b48"/><rect x="431.3" y="1331.5" width="6.6" height="6.6" fill="#be4b48"/><rect x="468.7" y="1306.4" width="6.6" height="6.6" fill="#be4b48"/><rect x="506.0" y="1312.3" width="6.6" height="6.6" fill="#be4b48"/><rect x="543.4" y="1312.9" width="6.6" height="6.6" fill="#be4b48"/><rect x="580.7" y="1308.1" width="6.6" height="6.6" fill="#be4b48"/><rect x="618.1" y="1308.1" width="6.6" height="6.6" fill="#be4b48"/><polyline points="61.0,1363.2 98.4,1397.6 135.7,1390.8 173.1,1370.4 210.4,1353.4 247.8,1402.5 285.2,1404.9 322.5,1409.0 359.9,1330.9 397.2,1325.6 434.6,1273.0 472.0,1209.1 509.3,1224.8 546.7,1209.1 584.0,1207.2 621.4,1218.3" fill="none" stroke="#4a7ebf" stroke-width="2.0" stroke-linejoin="round"/><path d="M61.0 1360.3L64.5 1363.8L61.0 1367.3L57.5 1363.8Z" fill="#4a7ebf"/><path d="M98.4 1394.7L101.9 1398.2L98.4 1401.7L94.9 1398.2Z" fill="#4a7ebf"/><path d="M135.7 1387.9L139.2 1391.4L135.7 1394.9L132.2 1391.4Z" fill="#4a7ebf"/><path d="M173.1 1367.5L176.6 1371.0L173.1 1374.5L169.6 1371.0Z" fill="#4a7ebf"/><path d="M210.4 1350.5L213.9 1354.0L210.4 1357.5L206.9 1354.0Z" fill="#4a7ebf"/><path d="M247.8 1399.6L251.3 1403.1L247.8 1406.6L244.3 1403.1Z" fill="#4a7ebf"/><path d="M285.2 1402.0L288.7 1405.5L285.2 1409.0L281.7 1405.5Z" fill="#4a7ebf"/><path d="M322.5 1406.1L326.0 1409.6L322.5 1413.1L319.0 1409.6Z" fill="#4a7ebf"/><path d="M359.9 1328.0L363.4 1331.5L359.9 1335.0L356.4 1331.5Z" fill="#4a7ebf"/><path d="M397.2 1322.7L400.7 1326.2L397.2 1329.7L393.7 1326.2Z" fill="#4a7ebf"/><path d="M434.6 1270.1L438.1 1273.6L434.6 1277.1L431.1 1273.6Z" fill="#4a7ebf"/><path d="M472.0 1206.2L475.5 1209.7L472.0 1213.2L468.5 1209.7Z" fill="#4a7ebf"/><path d="M509.3 1221.9L512.8 1225.4L509.3 1228.9L505.8 1225.4Z" fill="#4a7ebf"/><path d="M546.7 1206.2L550.2 1209.7L546.7 1213.2L543.2 1209.7Z" fill="#4a7ebf"/><path d="M584.0 1204.3L587.5 1207.8L584.0 1211.3L580.5 1207.8Z" fill="#4a7ebf"/><path d="M621.4 1215.4L624.9 1218.9L621.4 1222.4L617.9 1218.9Z" fill="#4a7ebf"/><polyline points="61.0,1362.2 98.4,1402.5 135.7,1390.8 173.1,1368.0 210.4,1347.6 247.8,1406.9 285.2,1408.4 322.5,1410.7 359.9,1322.1 397.2,1321.2 434.6,1261.6 472.0,1189.7 509.3,1207.4 546.7,1188.6 584.0,1186.6 621.4,1199.8" fill="none" stroke="#9bbb59" stroke-width="2.0" stroke-linejoin="round"/><path d="M61.0 1359.1L65.1 1365.8L56.9 1365.8Z" fill="#9bbb59"/><path d="M98.4 1399.4L102.4 1406.1L94.3 1406.1Z" fill="#9bbb59"/><path d="M135.7 1387.7L139.8 1394.4L131.7 1394.4Z" fill="#9bbb59"/><path d="M173.1 1364.9L177.1 1371.6L169.0 1371.6Z" fill="#9bbb59"/><path d="M210.4 1344.5L214.5 1351.2L206.4 1351.2Z" fill="#9bbb59"/><path d="M247.8 1403.8L251.9 1410.5L243.7 1410.5Z" fill="#9bbb59"/><path d="M285.2 1405.3L289.2 1412.0L281.1 1412.0Z" fill="#9bbb59"/><path d="M322.5 1407.6L326.6 1414.3L318.4 1414.3Z" fill="#9bbb59"/><path d="M359.9 1319.0L363.9 1325.7L355.8 1325.7Z" fill="#9bbb59"/><path d="M397.2 1318.1L401.3 1324.8L393.2 1324.8Z" fill="#9bbb59"/><path d="M434.6 1258.5L438.7 1265.2L430.5 1265.2Z" fill="#9bbb59"/><path d="M472.0 1186.6L476.0 1193.3L467.9 1193.3Z" fill="#9bbb59"/><path d="M509.3 1204.3L513.4 1211.0L505.2 1211.0Z" fill="#9bbb59"/><path d="M546.7 1185.5L550.8 1192.2L542.6 1192.2Z" fill="#9bbb59"/><path d="M584.0 1183.5L588.1 1190.2L580.0 1190.2Z" fill="#9bbb59"/><path d="M621.4 1196.7L625.5 1203.4L617.3 1203.4Z" fill="#9bbb59"/><text x="55.6" y="1358.7" font-size="8.7" fill="#1c74c8" text-anchor="middle" letter-spacing="0.1">337.67</text><text x="52.8" y="1368.1" font-size="8.7" fill="#e02828" text-anchor="middle" letter-spacing="0.1">333.86</text><text x="56.2" y="1378.2" font-size="8.7" fill="#10b860" text-anchor="middle" letter-spacing="0.1">338.39</text><text x="248.9" y="1379.1" font-size="8.7" fill="#e02828" text-anchor="middle" letter-spacing="0.1">324.85</text><text x="246.2" y="1401.9" font-size="8.7" fill="#10b860" text-anchor="middle" letter-spacing="0.1">308.74</text><text x="268.8" y="1404.9" font-size="8.7" fill="#1c74c8" text-anchor="middle" letter-spacing="0.1">311.30</text><text x="583.6" y="1180.5" font-size="8.7" fill="#10b860" text-anchor="middle" letter-spacing="0.1">458.13</text><text x="512.5" y="1203.7" font-size="8.7" fill="#10b860" text-anchor="middle" letter-spacing="0.1">444.13</text><text x="622.0" y="1197.6" font-size="8.7" fill="#10b860" text-anchor="middle" letter-spacing="0.1">449.17</text><text x="578.0" y="1201.8" font-size="8.7" fill="#1c74c8" text-anchor="middle" letter-spacing="0.1">444.70</text><text x="519.8" y="1236.0" font-size="8.7" fill="#1c74c8" text-anchor="middle" letter-spacing="0.1">432.47</text><text x="619.8" y="1231.1" font-size="8.7" fill="#1c74c8" text-anchor="middle" letter-spacing="0.1">437.16</text><text x="510.2" y="1309.8" font-size="8.7" fill="#e02828" text-anchor="middle" letter-spacing="0.1">370.81</text><text x="581.0" y="1302.5" font-size="8.7" fill="#e02828" text-anchor="middle" letter-spacing="0.1">373.66</text><text x="616.0" y="1325.0" font-size="8.7" fill="#e02828" text-anchor="middle" letter-spacing="0.1">373.66</text></svg>
</body></html>
